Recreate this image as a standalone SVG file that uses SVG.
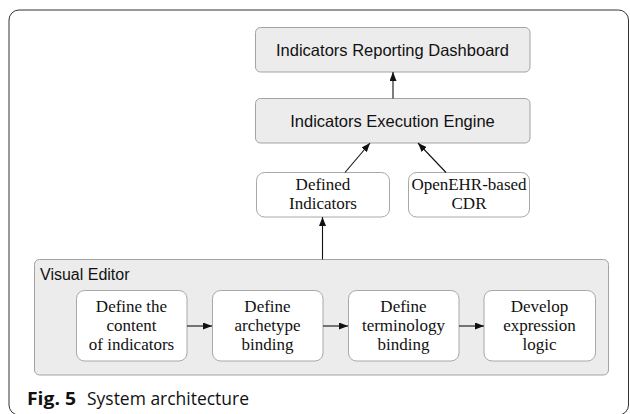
<svg xmlns="http://www.w3.org/2000/svg" width="630" height="414" viewBox="0 0 630 414">
<defs>
<style>
.gray{fill:#ececec;stroke:#a3a3a3;stroke-width:1}
.white{fill:#ffffff;stroke:#a8a8a8;stroke-width:1}
.conn{stroke:#111;stroke-width:1.1;fill:none;marker-end:url(#ah)}
</style>
<marker id="ah" markerUnits="userSpaceOnUse" markerWidth="9" markerHeight="7" refX="9" refY="3.5" orient="auto">
<path d="M0,0 L9,3.5 L0,7 z" fill="#111"/>
</marker>
</defs>
<rect x="9" y="10" width="619.5" height="405" rx="10" fill="#fff" stroke="#333" stroke-width="1"/>
<g id="visual-editor">
<rect class="gray" x="34.5" y="259.5" width="574" height="115.5" rx="5"/>
<text font-family="'Liberation Sans', Arial, sans-serif" font-size="16" fill="#111" x="40" y="280">Visual Editor</text>
</g>
<g id="dashboard">
<rect class="gray" x="255.5" y="27.5" width="274.5" height="44.5" rx="5"/>
<text font-family="'Liberation Sans', Arial, sans-serif" font-size="16.5" fill="#111" x="392.5" y="55.5" text-anchor="middle">Indicators Reporting Dashboard</text>
</g>
<g id="engine">
<rect class="gray" x="255.5" y="98.5" width="274.5" height="44.5" rx="5"/>
<text font-family="'Liberation Sans', Arial, sans-serif" font-size="16.5" fill="#111" x="392.5" y="126.5" text-anchor="middle">Indicators Execution Engine</text>
</g>
<g id="defined-indicators" font-family="'Liberation Serif', 'Times New Roman', serif" font-size="17" fill="#111" text-anchor="middle">
<rect class="white" x="256.5" y="172.5" width="133" height="44.5" rx="8"/>
<text x="323" y="190">Defined</text>
<text x="323" y="209">Indicators</text>
</g>
<g id="cdr" font-family="'Liberation Serif', 'Times New Roman', serif" font-size="17" fill="#111" text-anchor="middle">
<rect class="white" x="408.5" y="172.5" width="121" height="44.5" rx="8"/>
<text x="469" y="190">OpenEHR-based</text>
<text x="469" y="209">CDR</text>
</g>
<g id="define-content" font-family="'Liberation Serif', 'Times New Roman', serif" font-size="17" fill="#111" text-anchor="middle">
<rect class="white" x="76.5" y="290.5" width="110.5" height="70.5" rx="8"/>
<text x="131.5" y="312">Define the</text>
<text x="131.5" y="331">content</text>
<text x="131.5" y="350">of indicators</text>
</g>
<g id="define-archetype" font-family="'Liberation Serif', 'Times New Roman', serif" font-size="17" fill="#111" text-anchor="middle">
<rect class="white" x="212.5" y="290.5" width="110.5" height="70.5" rx="8"/>
<text x="267.5" y="312">Define</text>
<text x="267.5" y="331">archetype</text>
<text x="267.5" y="350">binding</text>
</g>
<g id="define-terminology" font-family="'Liberation Serif', 'Times New Roman', serif" font-size="17" fill="#111" text-anchor="middle">
<rect class="white" x="348.5" y="290.5" width="110.5" height="70.5" rx="8"/>
<text x="403.5" y="312">Define</text>
<text x="403.5" y="331">terminology</text>
<text x="403.5" y="350">binding</text>
</g>
<g id="develop-logic" font-family="'Liberation Serif', 'Times New Roman', serif" font-size="17" fill="#111" text-anchor="middle">
<rect class="white" x="484" y="290.5" width="111.5" height="70.5" rx="8"/>
<text x="539.5" y="312">Develop</text>
<text x="539.5" y="331">expression</text>
<text x="539.5" y="350">logic</text>
</g>
<g id="connectors">
<line class="conn" x1="393" y1="98.5" x2="393" y2="72"/>
<line class="conn" x1="345" y1="172.5" x2="370" y2="143"/>
<line class="conn" x1="446" y1="172.5" x2="418" y2="143"/>
<line class="conn" x1="322.5" y1="259.5" x2="322.5" y2="217"/>
<line class="conn" x1="187" y1="326" x2="212" y2="326"/>
<line class="conn" x1="323" y1="326" x2="348" y2="326"/>
<line class="conn" x1="459" y1="326" x2="484" y2="326"/>
</g>
<g id="caption" font-family="'Open Sans','Noto Sans',sans-serif" font-size="18.5" fill="#111">
<text x="27" y="405" font-weight="bold" textLength="49" lengthAdjust="spacingAndGlyphs">Fig. 5</text>
<text x="87" y="405" textLength="162" lengthAdjust="spacingAndGlyphs">System architecture</text>
</g>
</svg>
